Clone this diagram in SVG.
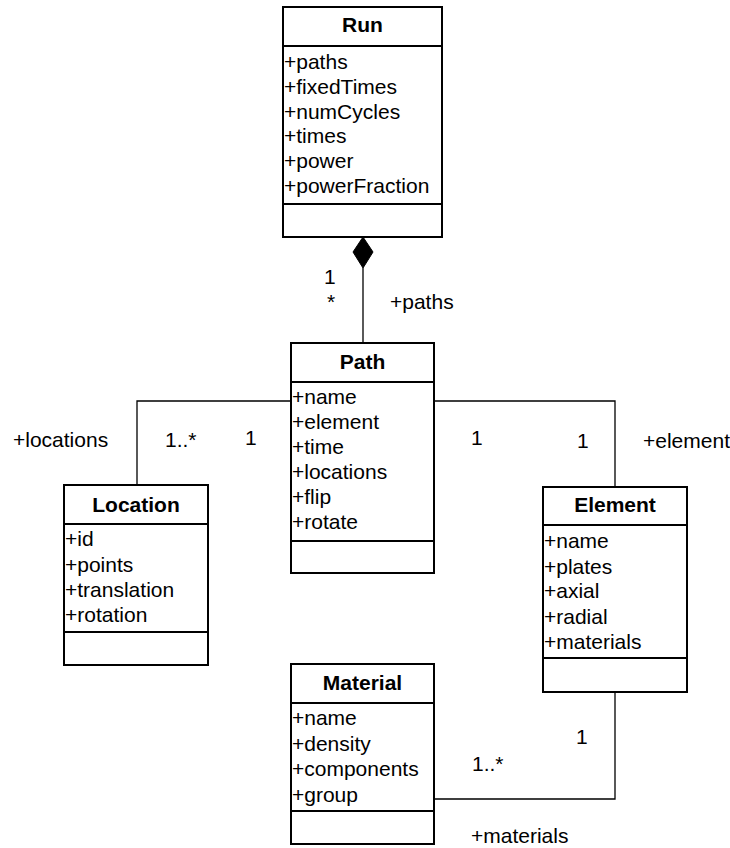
<svg xmlns="http://www.w3.org/2000/svg" width="730" height="848" viewBox="0 0 730 848">
<style>
.box{fill:#fff;stroke:#000;stroke-width:2}
.div{stroke:#000;stroke-width:2}
.t{font-family:"Liberation Sans",Arial,sans-serif;font-size:21px;fill:#000}
.h{font-family:"Liberation Sans",Arial,sans-serif;font-size:21px;font-weight:bold;fill:#000;text-anchor:middle}
.c{fill:none;stroke:#000;stroke-width:1.3}
</style>
<rect width="730" height="848" fill="#fff"/>
<g id="connectors">
<polygon points="363,237 373,252 363,268 353,252" fill="#000" stroke="#000"/>
<line class="c" x1="363" y1="268" x2="363" y2="343"/>
<polyline class="c" points="291,401 137,401 137,485"/>
<polyline class="c" points="434,401 615,401 615,487"/>
<polyline class="c" points="615,692 615,799 434,799"/>
<text class="t" x="324" y="284">1</text>
<text class="t" x="327" y="309">*</text>
<text class="t" x="390" y="309">+paths</text>
<text class="t" x="13" y="447">+locations</text>
<text class="t" x="165" y="447">1..*</text>
<text class="t" x="245" y="445">1</text>
<text class="t" x="471" y="445">1</text>
<text class="t" x="577" y="448">1</text>
<text class="t" x="643" y="448">+element</text>
<text class="t" x="576" y="744">1</text>
<text class="t" x="472" y="771">1..*</text>
<text class="t" x="471" y="843">+materials</text>
</g>
<g id="Run">
<rect class="box" x="283" y="7" width="159" height="230"/>
<line class="div" x1="283" y1="46" x2="442" y2="46"/>
<line class="div" x1="283" y1="204" x2="442" y2="204"/>
<text class="h" x="362.5" y="32">Run</text>
<text class="t" x="284" y="69">+paths</text>
<text class="t" x="284" y="94">+fixedTimes</text>
<text class="t" x="284" y="119">+numCycles</text>
<text class="t" x="284" y="143">+times</text>
<text class="t" x="284" y="168">+power</text>
<text class="t" x="284" y="193">+powerFraction</text>
</g>
<g id="Path">
<rect class="box" x="291" y="343" width="143" height="230"/>
<line class="div" x1="291" y1="382" x2="434" y2="382"/>
<line class="div" x1="291" y1="541" x2="434" y2="541"/>
<text class="h" x="362.5" y="369">Path</text>
<text class="t" x="292" y="404">+name</text>
<text class="t" x="292" y="429">+element</text>
<text class="t" x="292" y="454">+time</text>
<text class="t" x="292" y="479">+locations</text>
<text class="t" x="292" y="504">+flip</text>
<text class="t" x="292" y="529">+rotate</text>
</g>
<g id="Location">
<rect class="box" x="64" y="485" width="144" height="180"/>
<line class="div" x1="64" y1="524" x2="208" y2="524"/>
<line class="div" x1="64" y1="632" x2="208" y2="632"/>
<text class="h" x="136" y="512">Location</text>
<text class="t" x="65" y="546">+id</text>
<text class="t" x="65" y="572">+points</text>
<text class="t" x="65" y="597">+translation</text>
<text class="t" x="65" y="622">+rotation</text>
</g>
<g id="Element">
<rect class="box" x="543" y="487" width="144" height="205"/>
<line class="div" x1="543" y1="525" x2="687" y2="525"/>
<line class="div" x1="543" y1="658" x2="687" y2="658"/>
<text class="h" x="615" y="512">Element</text>
<text class="t" x="544" y="548">+name</text>
<text class="t" x="544" y="574">+plates</text>
<text class="t" x="544" y="598">+axial</text>
<text class="t" x="544" y="624">+radial</text>
<text class="t" x="544" y="649">+materials</text>
</g>
<g id="Material">
<rect class="box" x="291" y="664" width="143" height="180"/>
<line class="div" x1="291" y1="703" x2="434" y2="703"/>
<line class="div" x1="291" y1="811" x2="434" y2="811"/>
<text class="h" x="362.5" y="690">Material</text>
<text class="t" x="292" y="725">+name</text>
<text class="t" x="292" y="751">+density</text>
<text class="t" x="292" y="776">+components</text>
<text class="t" x="292" y="802">+group</text>
</g>
</svg>
